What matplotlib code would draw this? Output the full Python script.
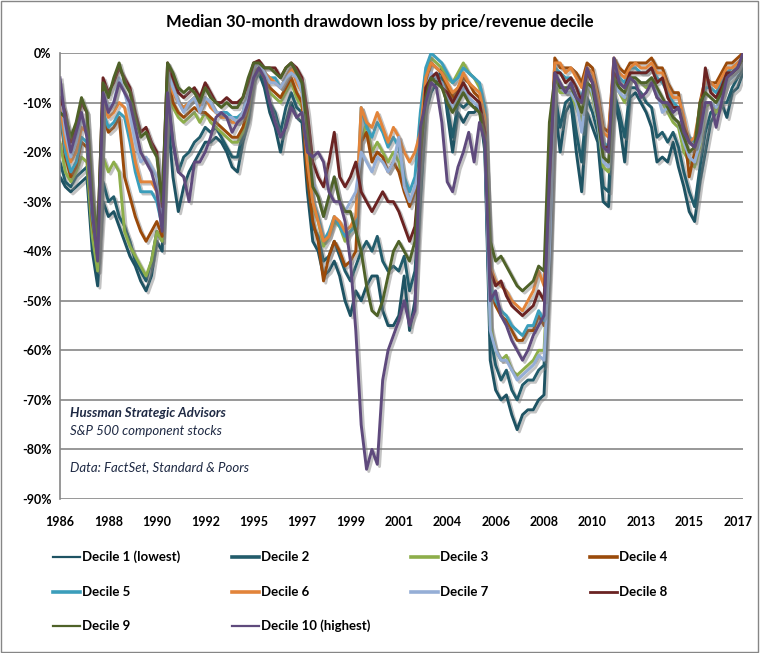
import matplotlib
matplotlib.use("Agg")
import matplotlib.pyplot as plt
import matplotlib.patheffects as pe
from matplotlib.lines import Line2D
from matplotlib.patches import Rectangle
import numpy as np

plt.rcParams['font.family'] = ['Lato', 'DejaVu Sans']

# quarterly readings (Jan 1986 onward), 30-month drawdown in percent
decile_1 = [-25, -27, -28, -27, -26, -25, -40, -47,
            -30, -33, -32, -35, -38, -41, -43, -46,
            -48, -45, -38, -40, -12, -25, -32, -27,
            -24, -22, -20, -18, -18, -17, -18, -20,
            -23, -24, -18, -14, -6, -4, -7, -12,
            -15, -20, -14, -10, -13, -14, -28, -38,
            -40, -45, -44, -42, -45, -50, -53, -48,
            -50, -47, -45, -45, -52, -55, -55, -53,
            -45, -56, -50, -30, -12, -8, -6, -3,
            -12, -20, -12, -14, -12, -12, -11, -20,
            -62, -68, -70, -69, -73, -76, -73, -72,
            -72, -70, -69, -45, -10, -20, -12, -10,
            -20, -28, -12, -15, -18, -30, -31, -9,
            -14, -22, -9, -8, -10, -12, -15, -22,
            -21, -22, -18, -23, -27, -32, -34, -26,
            -20, -14, -12, -10, -13, -8, -7, -4]
decile_2 = [-22, -26, -27, -25, -24, -23, -38, -44,
            -26, -30, -29, -33, -35, -38, -42, -44,
            -46, -42, -36, -38, -9, -18, -24, -21,
            -20, -18, -17, -15, -16, -15, -17, -19,
            -21, -21, -16, -13, -5, -3, -6, -10,
            -12, -16, -11, -8, -11, -12, -25, -35,
            -37, -42, -41, -38, -41, -44, -46, -43,
            -40, -38, -40, -37, -42, -44, -43, -44,
            -41, -48, -44, -27, -10, -5, -5, -5,
            -11, -17, -10, -11, -10, -11, -11, -19,
            -57, -63, -66, -64, -68, -70, -67, -66,
            -66, -64, -63, -42, -8, -15, -10, -9,
            -16, -22, -9, -12, -16, -27, -28, -8,
            -12, -17, -7, -7, -8, -10, -11, -17,
            -16, -18, -16, -19, -24, -28, -31, -23,
            -16, -12, -11, -10, -10, -7, -5, -3]
decile_3 = [-18, -24, -26, -24, -21, -22, -37, -44,
            -21, -24, -22, -24, -36, -39, -41, -43,
            -45, -42, -36, -38, -6, -11, -13, -14,
            -13, -12, -14, -12, -14, -15, -16, -17,
            -18, -18, -16, -12, -4, -3, -5, -8,
            -9, -10, -8, -6, -9, -11, -22, -31,
            -34, -39, -37, -34, -35, -38, -36, -34,
            -18, -14, -20, -18, -20, -22, -20, -22,
            -27, -30, -28, -13, -4, -1, -2, -3,
            -5, -6, -4, -2, -4, -5, -7, -12,
            -55, -60, -62, -61, -64, -65, -64, -63,
            -62, -60, -60, -38, -6, -8, -8, -8,
            -11, -14, -6, -9, -14, -23, -24, -6,
            -8, -10, -5, -6, -6, -7, -5, -9,
            -10, -12, -14, -15, -20, -22, -23, -19,
            -11, -10, -12, -9, -6, -5, -4, -2]
decile_4 = [-12, -21, -25, -23, -18, -19, -34, -41,
            -13, -16, -15, -13, -25, -29, -33, -36,
            -38, -36, -34, -37, -5, -10, -12, -13,
            -12, -11, -12, -12, -13, -14, -15, -16,
            -17, -17, -15, -11, -4, -3, -5, -7,
            -8, -9, -7, -5, -8, -10, -25, -34,
            -38, -46, -41, -38, -40, -43, -42, -40,
            -18, -16, -22, -20, -21, -24, -22, -24,
            -28, -31, -28, -17, -6, -2, -3, -4,
            -7, -9, -7, -5, -6, -8, -9, -14,
            -48, -51, -53, -54, -56, -58, -58, -56,
            -56, -53, -55, -32, -1, -3, -3, -3,
            -4, -6, -2, -3, -8, -15, -16, -1,
            -3, -4, -2, -2, -2, -2, -1, -3,
            -3, -6, -8, -8, -15, -25, -20, -10,
            -5, -6, -6, -4, -2, -2, -1, 0]
decile_5 = [-11, -20, -24, -22, -17, -18, -33, -41,
            -12, -15, -14, -12, -13, -18, -24, -28,
            -28, -28, -30, -35, -4, -7, -10, -11,
            -10, -9, -11, -9, -10, -12, -12, -12,
            -13, -13, -12, -8, -3, -2, -4, -5,
            -5, -7, -5, -3, -5, -7, -21, -30,
            -33, -38, -36, -33, -35, -37, -36, -35,
            -11, -15, -17, -14, -16, -19, -17, -19,
            -25, -28, -25, -12, -3, 0, -1, -2,
            -4, -6, -5, -3, -4, -5, -6, -11,
            -47, -50, -52, -53, -55, -56, -57, -55,
            -55, -52, -54, -36, -3, -4, -5, -5,
            -7, -9, -4, -5, -11, -18, -19, -3,
            -5, -6, -3, -3, -4, -4, -3, -5,
            -6, -8, -10, -11, -15, -17, -18, -13,
            -7, -7, -8, -6, -4, -3, -2, -1]
decile_6 = [-10, -18, -22, -20, -15, -16, -31, -39,
            -10, -13, -12, -10, -11, -16, -22, -26,
            -26, -26, -28, -33, -4, -8, -10, -11,
            -10, -9, -11, -9, -11, -12, -13, -13,
            -14, -14, -12, -9, -3, -2, -4, -5,
            -6, -7, -5, -3, -6, -8, -22, -30,
            -34, -38, -37, -33, -34, -36, -35, -33,
            -11, -14, -15, -12, -15, -18, -15, -17,
            -20, -22, -20, -16, -5, -2, -3, -4,
            -6, -8, -7, -4, -6, -7, -8, -13,
            -43, -46, -47, -48, -50, -51, -52, -50,
            -48, -44, -47, -24, -2, -2, -4, -3,
            -5, -7, -3, -4, -9, -16, -17, -2,
            -4, -5, -3, -2, -3, -3, -2, -4,
            -4, -7, -9, -9, -13, -18, -17, -11,
            -5, -6, -7, -5, -3, -3, -2, -1]
decile_7 = [-6, -16, -21, -18, -13, -15, -31, -39,
            -8, -11, -10, -5, -8, -12, -18, -22,
            -21, -23, -25, -33, -4, -7, -10, -12,
            -10, -9, -12, -9, -10, -12, -12, -13,
            -13, -14, -12, -8, -3, -2, -4, -6,
            -6, -7, -5, -4, -5, -8, -17, -26,
            -29, -33, -29, -25, -30, -32, -30, -28,
            -20, -22, -24, -21, -22, -24, -22, -17,
            -27, -30, -27, -22, -8, -4, -5, -6,
            -9, -11, -9, -7, -9, -10, -11, -17,
            -56, -60, -62, -62, -64, -66, -65, -64,
            -63, -61, -62, -40, -6, -7, -8, -8,
            -10, -16, -6, -8, -14, -22, -23, -6,
            -8, -9, -5, -5, -6, -6, -5, -8,
            -12, -11, -13, -14, -18, -21, -22, -18,
            -10, -10, -11, -9, -6, -5, -4, -2]
decile_8 = [-9, -12, -18, -15, -10, -12, -30, -38,
            -5, -8, -6, -3, -5, -7, -12, -16,
            -15, -18, -20, -31, -2, -5, -8, -9,
            -8, -7, -9, -6, -8, -10, -10, -9,
            -10, -10, -9, -6, -2, -1.5, -3, -3,
            -3, -5, -3, -2, -3, -5, -12, -22,
            -25, -27, -22, -16, -25, -27, -25, -22,
            -28, -30, -32, -30, -28, -30, -30, -32,
            -35, -38, -35, -22, -7, -5, -4, -7,
            -8, -10, -8, -6, -8, -9, -10, -16,
            -44, -47, -46, -49, -51, -52, -53, -52,
            -51, -48, -50, -26, -4, -4, -6, -5,
            -7, -10, -4, -6, -11, -19, -19, -4,
            -6, -7, -4, -4, -4, -4, -3, -6,
            -5, -9, -11, -11, -15, -18, -19, -14,
            -3, -8, -9, -7, -4, -4, -3, -1]
decile_9 = [-12, -13, -17, -14, -9, -12, -29, -37,
            -6, -9, -5, -2, -6, -8, -13, -17,
            -16, -19, -21, -30, -2, -4, -7, -8,
            -7, -8, -10, -7, -9, -10, -11, -10,
            -11, -11, -9, -5, -2, -2, -3, -3,
            -4, -5, -3, -2, -4, -6, -16, -27,
            -29, -33, -29, -25, -30, -32, -32, -36,
            -40, -47, -52, -53, -50, -45, -40, -38,
            -40, -42, -38, -20, -9, -5, -6, -7,
            -10, -12, -10, -8, -10, -11, -12, -18,
            -38, -42, -41, -43, -45, -47, -48, -47,
            -46, -43, -44, -14, -5, -7, -7, -7,
            -9, -12, -6, -7, -13, -21, -22, -5,
            -7, -8, -5, -5, -6, -6, -5, -7,
            -9, -11, -13, -14, -17, -20, -19, -10,
            -8, -9, -10, -8, -5, -4, -3, -1]
decile_10 = [-5, -14, -20, -16, -12, -17, -32, -42,
             -8, -12, -10, -6, -8, -10, -15, -20,
             -22, -24, -28, -36, -8, -18, -24, -25,
             -30, -22, -22, -20, -17, -13, -12, -13,
             -16, -14, -13, -10, -5, -3, -5, -10,
             -14, -17, -15, -11, -13, -12, -20, -21,
             -20, -22, -28, -30, -30, -34, -42, -56,
             -75, -84, -80, -83, -66, -60, -57, -54,
             -50, -55, -52, -15, -10, -6, -7, -14,
             -26, -28, -23, -20, -16, -22, -14, -18,
             -50, -48, -53, -55, -58, -60, -62, -60,
             -57, -55, -53, -25, -4, -6, -8, -6,
             -9, -10, -3, -6, -12, -19, -20, -1,
             -6, -7, -5, -6, -9, -8, -6, -9,
             -10, -10, -12, -11, -16, -18, -19, -16,
             -10, -10, -15, -10, -5, -4, -3, 0]

series = [decile_1, decile_2, decile_3, decile_4, decile_5,
          decile_6, decile_7, decile_8, decile_9, decile_10]
labels = ['Decile 1 (lowest)', 'Decile 2', 'Decile 3', 'Decile 4', 'Decile 5',
          'Decile 6', 'Decile 7', 'Decile 8', 'Decile 9', 'Decile 10 (highest)']
colors = ['#1E5363', '#225C6B', '#8DAE4A', '#9A4A0A', '#3B9EBB',
          '#E2843A', '#95AED6', '#6A2322', '#4F6228', '#5F4A7D']
legend_widths = [1.6, 2.6, 2.6, 2.6, 2.6, 2.6, 2.6, 2.0, 1.6, 1.6]

tick_years = [1986, 1988, 1990, 1992, 1995, 1997, 1999, 2001,
              2004, 2006, 2008, 2010, 2013, 2015, 2017]

fig = plt.figure(figsize=(7.6, 6.53), dpi=100)
ax = fig.add_axes([60 / 760, 1 - 499 / 653, 683 / 760, 446 / 653])

shadow = [pe.SimpleLineShadow(offset=(1.6, -1.6), shadow_color='#7a7a7a', alpha=0.45),
          pe.Normal()]
for vals, lab, col in zip(series, labels, colors):
    assert len(vals) == 128, lab
    months = np.arange(len(vals)) * 3
    ax.plot(months, vals, color=col, lw=2.1, label=lab,
            solid_joinstyle='round', path_effects=shadow)

ax.set_xlim(0, 381)
ax.set_ylim(-90, 0)
ax.set_yticks(np.arange(-90, 1, 10))
ax.set_yticklabels([f'{v}%' for v in range(-90, 1, 10)],
                   fontsize=9, fontweight='bold')
ax.set_xticks(np.arange(len(tick_years)) * 27)
ax.set_xticklabels([str(y) for y in tick_years], fontsize=9, fontweight='bold')
ax.tick_params(axis='both', length=0)
ax.tick_params(axis='x', pad=12)
ax.tick_params(axis='y', pad=6)
ax.grid(axis='y', color='#868686', lw=1.2)
ax.set_axisbelow(True)
for s in ['top', 'right', 'bottom']:
    ax.spines[s].set_visible(False)
ax.spines['left'].set_color('#868686')
ax.spines['left'].set_linewidth(1.2)

ax.text(0.015, 0.193, 'Hussman Strategic Advisors', transform=ax.transAxes,
        fontsize=9.5, fontweight='bold', style='italic', color='#1F2A44', va='center')
ax.text(0.015, 0.152, 'S&P 500 component stocks', transform=ax.transAxes,
        fontsize=9.5, style='italic', color='#1F2A44', va='center')
ax.text(0.015, 0.072, 'Data: FactSet, Standard & Poors', transform=ax.transAxes,
        fontsize=9.5, style='italic', color='#1F2A44', va='center')

fig.text(0.5, 1 - 22 / 653, 'Median 30-month drawdown loss by price/revenue decile',
         ha='center', va='center', fontsize=12, fontweight='bold')

# legend laid out row by row like the original
col_x = [53, 232, 411, 590]
row_y = [557, 592, 626]
for i, (lab, col) in enumerate(zip(labels, colors)):
    cx = col_x[i % 4]
    ry = 1 - row_y[i // 4] / 653
    fig.add_artist(Line2D([cx / 760, (cx + 27) / 760], [ry, ry], color=col,
                          lw=legend_widths[i], transform=fig.transFigure))
    fig.text((cx + 29) / 760, ry, lab, fontsize=9.5, fontweight='bold', va='center')

fig.add_artist(Rectangle((0.001, 0.001), 0.997, 0.997, transform=fig.transFigure,
                         fill=False, edgecolor='#868686', lw=1))

fig.savefig('out.png', dpi=100)
